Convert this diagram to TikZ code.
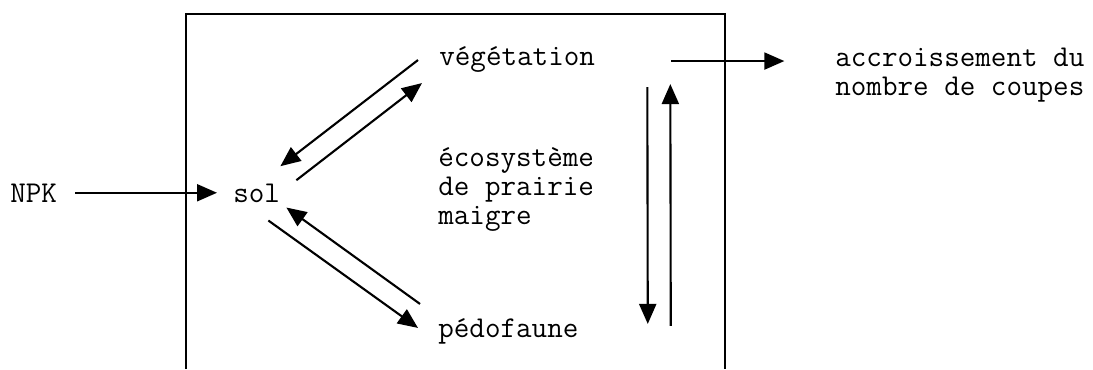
\documentclass[tikz,border=0pt]{standalone}
\usepackage{fontspec}
\usepackage{tikz}
\usetikzlibrary{arrows.meta}

\begin{document}
\begin{tikzpicture}[x=0.02cm,y=-0.02cm,
  txt/.style={font=\ttfamily\addfontfeature{FakeBold=1.4}\fontsize{17.2}{16.5}\selectfont, inner sep=0pt, anchor=base west},
  fl/.style={-{Triangle[length=0.4cm,width=0.34cm]}, line width=1.2pt}]
  \useasboundingbox (0,0) rectangle (1093,369);
  \draw[line width=1.2pt] (186,369) -- (186,14) -- (725,14) -- (725,369); % cadre de l'écosystème

  \node[txt] (npk) at (10,202) {NPK};
  \node[txt] (sol) at (233,202) {sol};
  \node[txt] (veg) at (439,65) {végétation};
  \node[txt] (ped) at (438,337) {pédofaune};
  % base = derniere ligne
  \node[txt, align=left] (eco) at (438,224) {écosystème\\de prairie\\maigre};
  \node[txt, align=left] (coupes) at (835,95) {accroissement du\\nombre de coupes};

  \draw[fl] ([shift={(18,0)}]npk.east) -- ([shift={(-16,0)}]npk.east -| sol.west);
  \draw[fl] ([shift={(-21,1)}]veg.west) -- ([shift={(0,-17)}]sol.north east);
  \draw[fl] ([shift={(16,-3)}]sol.north east) -- ([shift={(-17,24)}]veg.west);
  \draw[fl] ([shift={(-18,-27)}]ped.west) -- ([shift={(6,5)}]sol.south east);
  \draw[fl] ([shift={(-12,18)}]sol.south east) -- ([shift={(-20,-3)}]ped.west);
  \draw[fl] ([shift={(52,28)}]veg.east) -- ([shift={(69,-7)}]ped.east);
  \draw[fl] ([shift={(92,-5)}]ped.east) -- ([shift={(75,25)}]veg.east);
  \draw[fl] ([shift={(76,2)}]veg.east) -- ([shift={(189,2)}]veg.east); % vers les coupes
\end{tikzpicture}
\end{document}
